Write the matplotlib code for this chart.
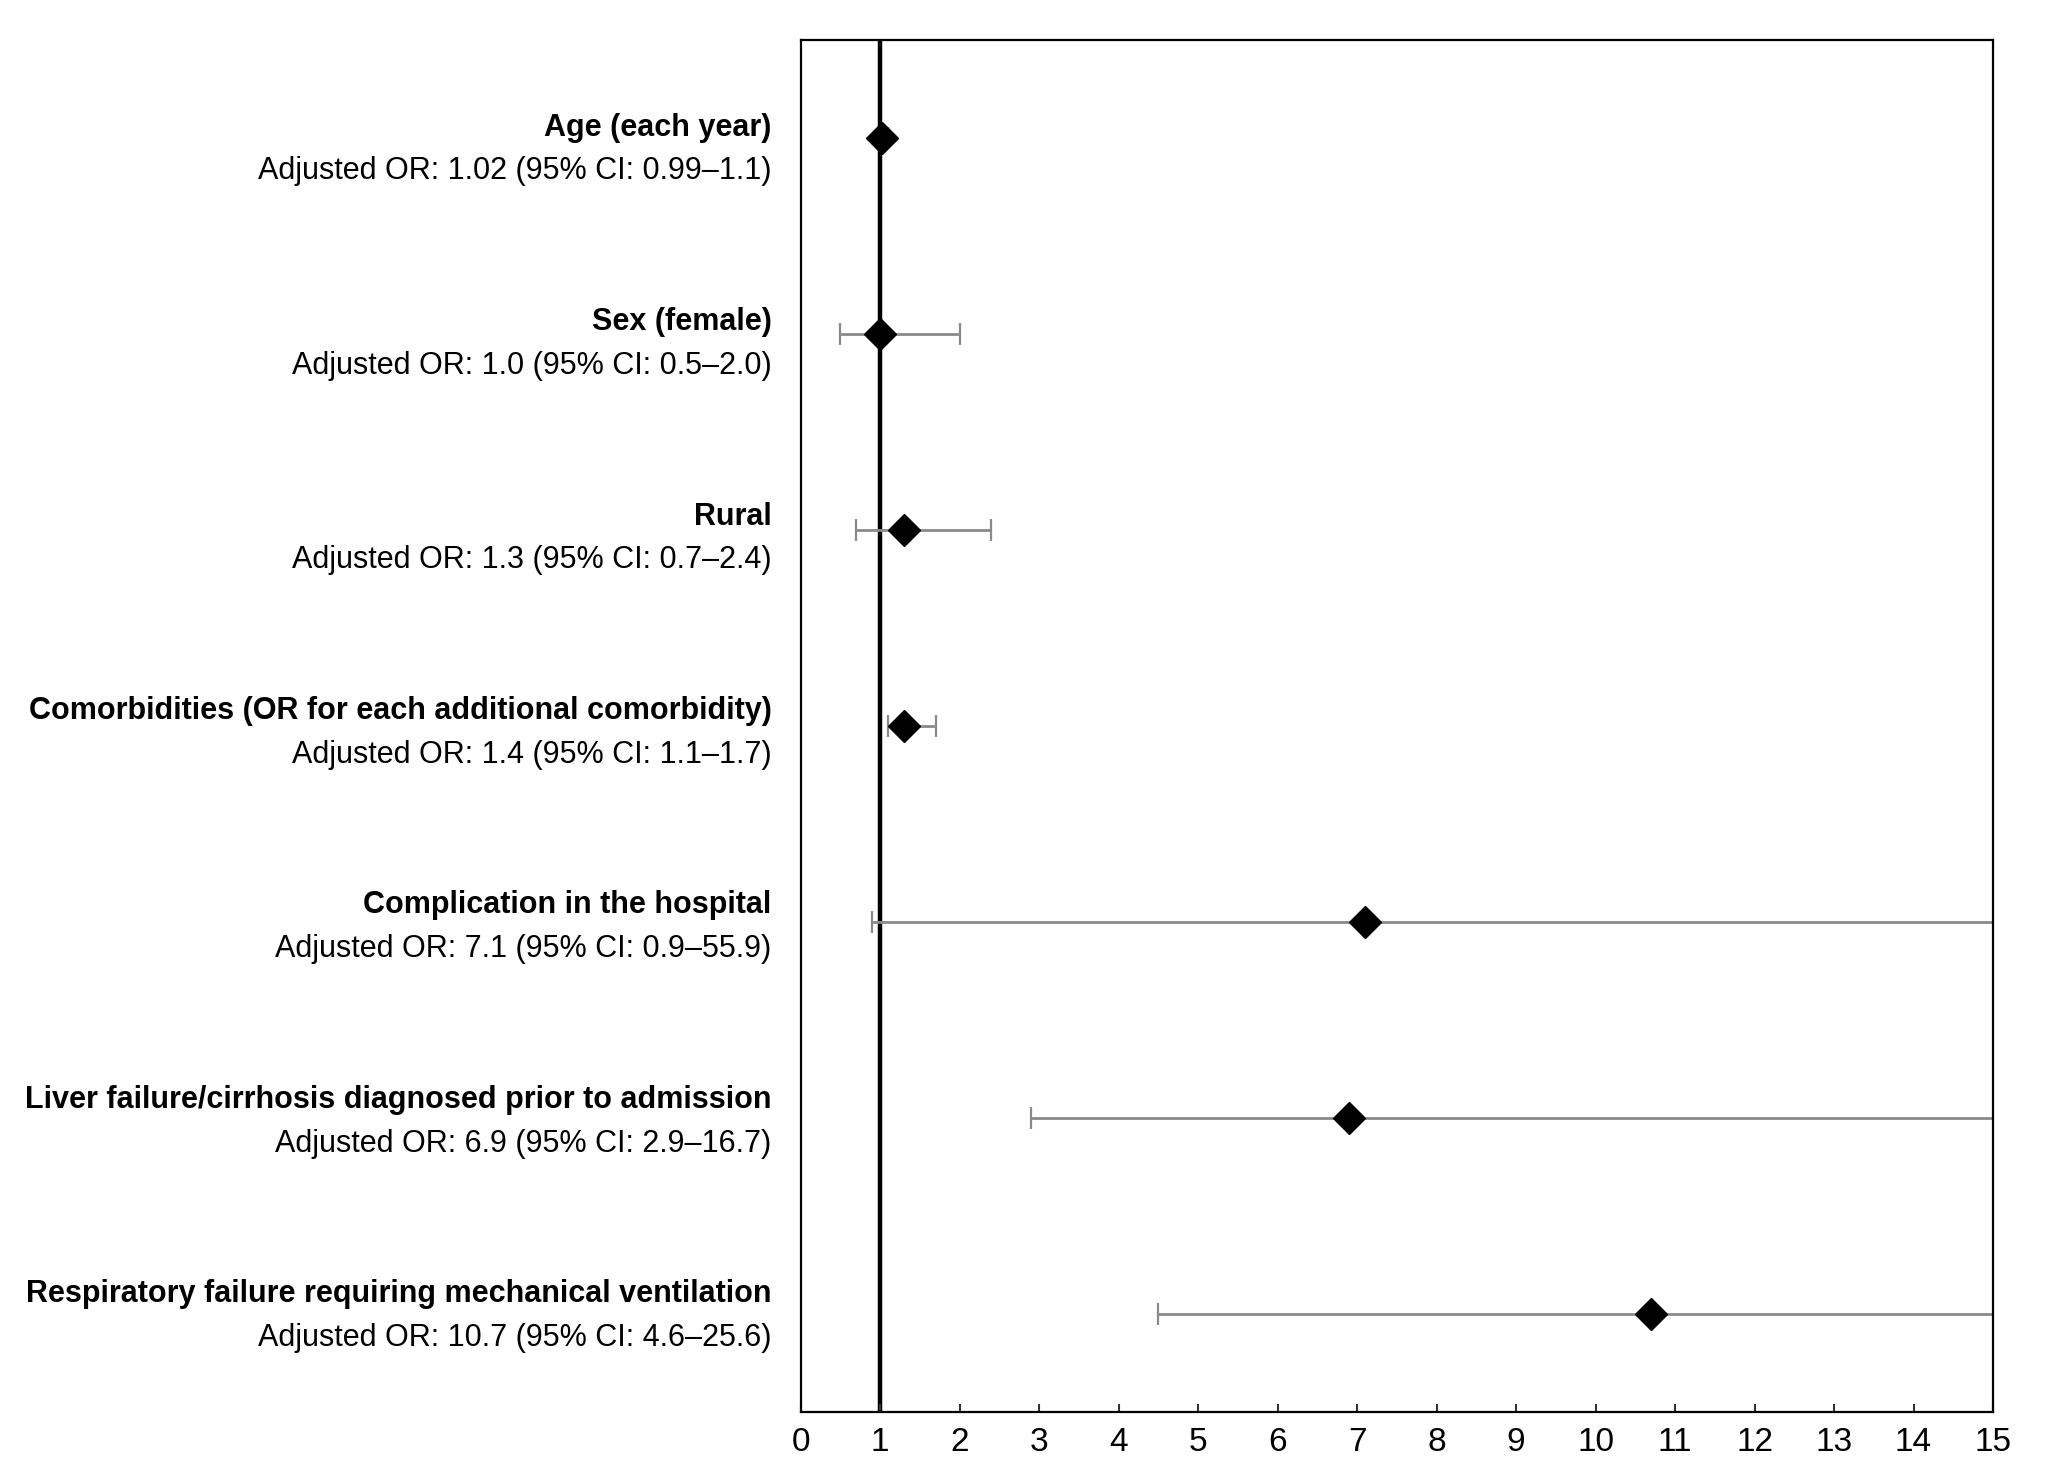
import numpy as np
import matplotlib
matplotlib.use("Agg")
import matplotlib.pyplot as plt

# Forest plot: adjusted odds ratios with 95% CI

names = [
    "Age (each year)",
    "Sex (female)",
    "Rural",
    "Comorbidities (OR for each additional comorbidity)",
    "Complication in the hospital",
    "Liver failure/cirrhosis diagnosed prior to admission",
    "Respiratory failure requiring mechanical ventilation",
]
details = [
    "Adjusted OR: 1.02 (95% CI: 0.99\u20131.1)",
    "Adjusted OR: 1.0 (95% CI: 0.5\u20132.0)",
    "Adjusted OR: 1.3 (95% CI: 0.7\u20132.4)",
    "Adjusted OR: 1.4 (95% CI: 1.1\u20131.7)",
    "Adjusted OR: 7.1 (95% CI: 0.9\u201355.9)",
    "Adjusted OR: 6.9 (95% CI: 2.9\u201316.7)",
    "Adjusted OR: 10.7 (95% CI: 4.6\u201325.6)",
]
# values as drawn in the picture
odds = [1.02, 1.0, 1.3, 1.3, 7.1, 6.9, 10.7]
ci_low = [0.99, 0.5, 0.7, 1.1, 0.9, 2.9, 4.5]
ci_high = [1.1, 2.0, 2.4, 1.7, 55.9, 16.7, 25.6]

plt.rcParams['font.family'] = ['Liberation Sans', 'DejaVu Sans']

odds = np.array(odds)
lo = odds - np.array(ci_low)
hi = np.array(ci_high) - odds
y = np.arange(len(names))
# the text block is spaced a touch tighter than the rows
label_y = 3 + (y - 3) * 0.992

fig = plt.figure(figsize=(20.46, 14.79), dpi=100)
ax = fig.add_axes([0.3913, 0.0453, 0.9741 - 0.3913, 0.973 - 0.0453])

ax.axvline(1, color="black", lw=3.2, zorder=1)
ax.errorbar(odds, y, xerr=[lo, hi], fmt="none", ecolor="#8a8a8a",
            elinewidth=2, capsize=8, capthick=1.6, zorder=2)
ax.plot(odds, y, "D", color="black", ms=16, zorder=3, linestyle="none")

ax.set_xlim(0, 15)
ax.set_ylim(6.5, -0.5)
ax.set_xticks(range(16))
ax.set_yticks([])
ax.tick_params(axis="x", direction="in", length=6, width=1.5, color="#333333",
               labelsize=24, pad=11)
for s in ax.spines.values():
    s.set_linewidth(1.6)

for ly, n, d in zip(label_y, names, details):
    ax.annotate(n, xy=(0, ly), xycoords=("axes fraction", "data"),
                xytext=(-21, 5), textcoords="offset points",
                ha="right", va="baseline", fontsize=22, fontweight="bold")
    ax.annotate(d, xy=(0, ly), xycoords=("axes fraction", "data"),
                xytext=(-21, -26.5), textcoords="offset points",
                ha="right", va="baseline", fontsize=22)

fig.savefig("out.png", dpi=100)
